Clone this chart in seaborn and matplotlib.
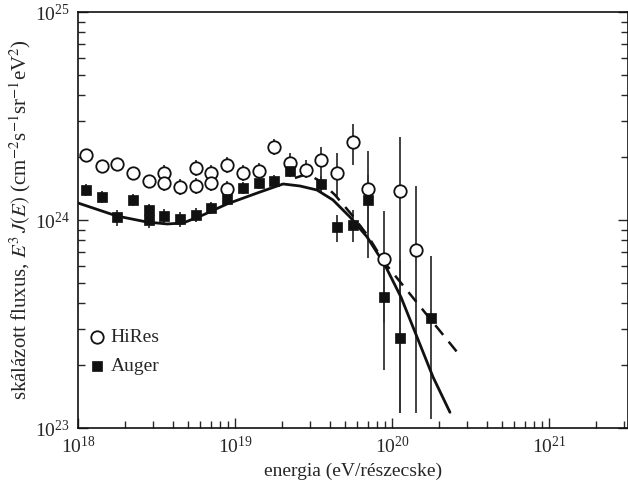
import numpy as np
import pandas as pd
import matplotlib
matplotlib.use("Agg")
import matplotlib.pyplot as plt
import seaborn as sns

# log10 of energy (eV) and flux in units of 1e24 (cm^-2 s^-1 sr^-1 eV^2)
hires_logE = [18.05, 18.15, 18.25, 18.35, 18.45, 18.55, 18.55, 18.65, 18.75, 18.75,
              18.85, 18.85, 18.95, 18.95, 19.05, 19.15, 19.25, 19.35, 19.45, 19.55,
              19.65, 19.75, 19.85, 19.95, 20.05, 20.15]
hires_flux = [2.05, 1.82, 1.86, 1.68, 1.54, 1.68, 1.51, 1.44, 1.78, 1.46,
              1.68, 1.51, 1.84, 1.41, 1.68, 1.72, 2.24, 1.88, 1.74, 1.94,
              1.68, 2.37, 1.41, 0.65, 1.38, 0.72]
hires_lo = [1.94, 1.72, 1.76, 1.59, 1.46, 1.54, 1.38, 1.32, 1.63, 1.34,
            1.54, 1.38, 1.68, 1.29, 1.54, 1.57, 2.05, 1.68, 1.59, 1.51,
            1.28, 1.84, 0.88, 0.32, 0.118, 0.118]
hires_hi = [2.17, 1.92, 1.97, 1.78, 1.63, 1.84, 1.65, 1.57, 1.95, 1.60,
            1.84, 1.65, 2.01, 1.54, 1.84, 1.88, 2.45, 2.10, 1.94, 2.24,
            2.10, 2.89, 2.15, 1.10, 2.50, 1.46]

auger_logE = [18.05, 18.15, 18.25, 18.35, 18.45, 18.45, 18.55, 18.65, 18.75, 18.85,
              18.95, 19.05, 19.15, 19.25, 19.35, 19.55, 19.65, 19.75, 19.85, 19.95,
              20.05, 20.25]
auger_flux = [1.39, 1.29, 1.03, 1.25, 1.12, 1.00, 1.045, 1.01, 1.06, 1.14,
              1.26, 1.43, 1.51, 1.54, 1.72, 1.49, 0.925, 0.946, 1.25, 0.426,
              0.271, 0.338]
auger_lo = [1.30, 1.21, 0.94, 1.17, 1.05, 0.92, 0.96, 0.93, 0.98, 1.07,
            1.18, 1.34, 1.41, 1.44, 1.61, 1.37, 0.78, 0.78, 0.66, 0.19,
            0.118, 0.11]
auger_hi = [1.49, 1.38, 1.12, 1.33, 1.20, 1.08, 1.13, 1.09, 1.14, 1.22,
            1.35, 1.53, 1.61, 1.65, 1.84, 1.62, 1.06, 1.12, 1.65, 0.68,
            0.64, 0.67]

# model curves
solid_logE = [18.0, 18.248, 18.439, 18.567, 18.669, 18.796, 18.949, 19.159, 19.306, 19.414,
              19.522, 19.624, 19.732, 19.841, 19.955, 20.057, 20.159, 20.261, 20.369]
solid_flux = [1.207, 1.045, 0.978, 0.957, 0.967, 1.057, 1.194, 1.363, 1.490, 1.457,
              1.394, 1.248, 1.034, 0.829, 0.607, 0.426, 0.274, 0.176, 0.119]
dashed_logE = [19.382, 19.459, 19.541, 19.637, 19.745, 19.847, 19.949, 20.420]
dashed_flux = [1.592, 1.664, 1.540, 1.319, 1.057, 0.838, 0.628, 0.229]

sns.set_theme(style="ticks")
plt.rcParams['font.family'] = ['Liberation Serif', 'DejaVu Serif']
plt.rcParams['mathtext.fontset'] = 'stix'

def to_df(logE, flux):
    return pd.DataFrame({'E': 10 ** np.array(logE), 'F': np.array(flux) * 1e24})

hires = to_df(hires_logE, hires_flux)
auger = to_df(auger_logE, auger_flux)
solid = to_df(solid_logE, solid_flux)
dashed = to_df(dashed_logE, dashed_flux)

fig = plt.figure(figsize=(6.28, 4.84), dpi=100)
ax = fig.add_axes([78 / 628, 56 / 484, 550 / 628, 416 / 484])
ax.set_xscale('log')
ax.set_yscale('log')

# error bars
for df, lo, hi in [(hires, hires_lo, hires_hi), (auger, auger_lo, auger_hi)]:
    yerr = [df['F'] - np.array(lo) * 1e24, np.array(hi) * 1e24 - df['F']]
    ax.errorbar(df['E'], df['F'], yerr=yerr, fmt='none', ecolor='#333333',
                elinewidth=1.3, capsize=0, zorder=2)

sns.lineplot(data=solid, x='E', y='F', ax=ax, color='#111111', lw=2.0, sort=False, zorder=3)
sns.lineplot(data=dashed, x='E', y='F', ax=ax, color='#111111', lw=1.8, sort=False,
             dashes=False, zorder=3)
ax.lines[-1].set_linestyle((0, (5, 3.5)))

sns.scatterplot(data=hires, x='E', y='F', ax=ax, marker='o', s=80, facecolor='white',
                edgecolor='#111111', linewidth=1.3, zorder=4, label='HiRes')
sns.scatterplot(data=auger, x='E', y='F', ax=ax, marker='s', s=55, color='#111111',
                edgecolor='#111111', linewidth=0.5, zorder=5, label='Auger')

ax.set_xlim(1e18, 10 ** 21.503)
ax.set_ylim(1e23, 1e25)
ax.set_xlabel('energia (eV/részecske)', fontsize=14, labelpad=4)
ax.set_ylabel(r'skálázott fluxus, $E^3\,J(E)$ (cm$^{-2}$s$^{-1}$sr$^{-1}$eV$^{2}$)',
              fontsize=15, labelpad=1)

ax.tick_params(which='both', direction='in', top=False, right=True, labelsize=14, width=1.0)
ax.tick_params(which='major', length=7, pad=6)
ax.tick_params(which='minor', length=5)
for sp in ax.spines.values():
    sp.set_linewidth(1.2)
    sp.set_color('#111111')

ax.legend(loc='lower left', bbox_to_anchor=(0.006, 0.108), frameon=False, fontsize=14,
          handlelength=0.8, handletextpad=0.3, labelspacing=0.6, borderaxespad=0)

fig.savefig('out.png', dpi=100)
